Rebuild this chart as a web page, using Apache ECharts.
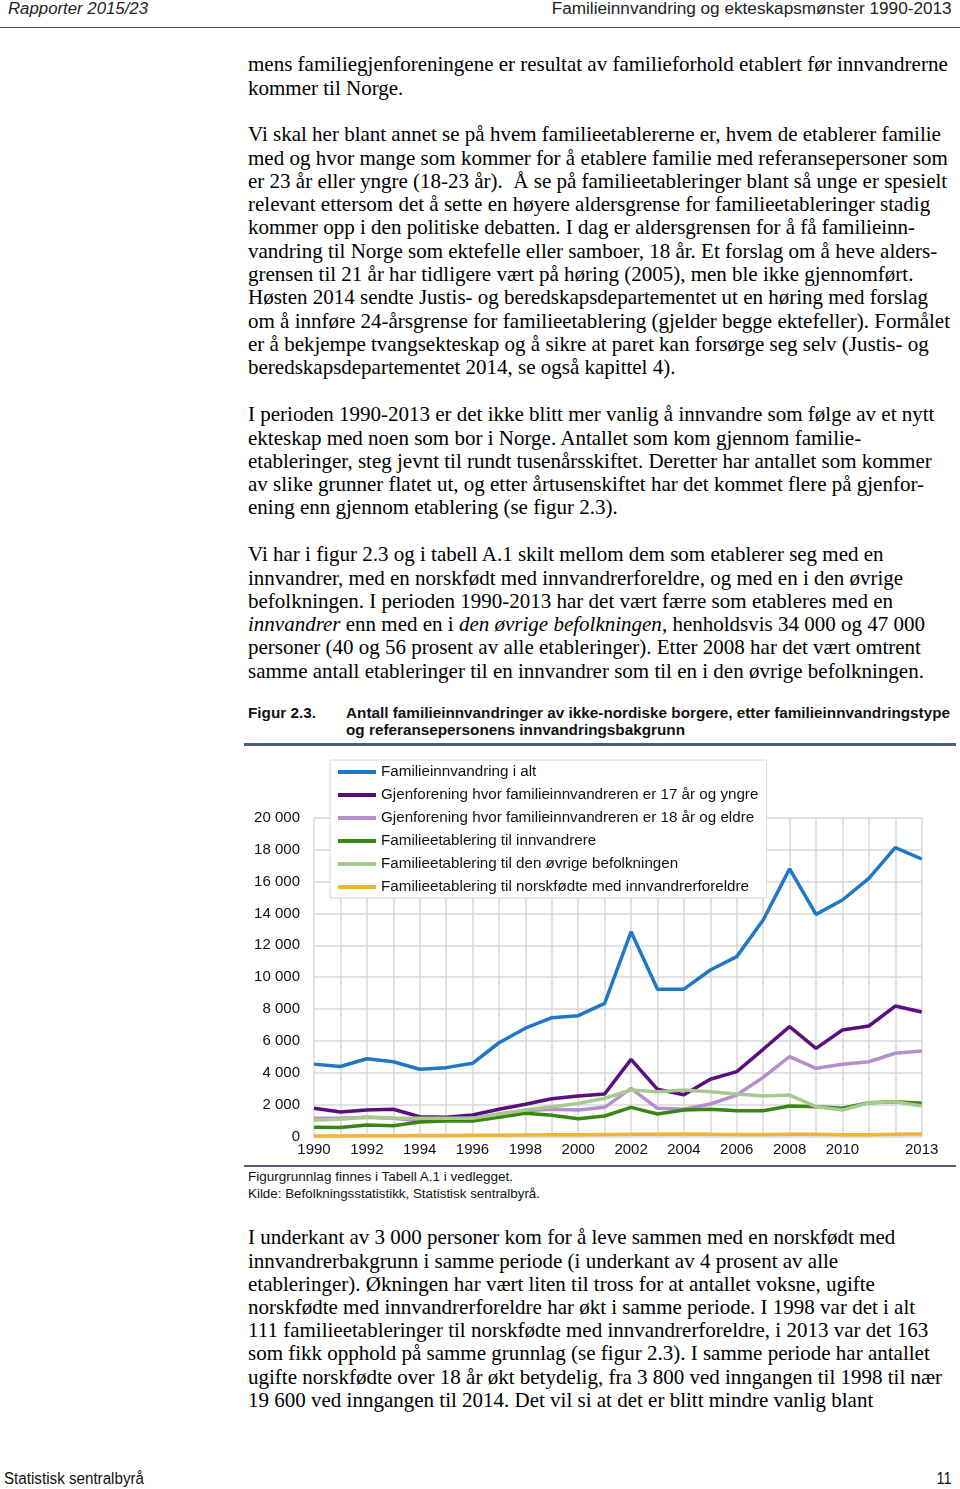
<!DOCTYPE html>
<html><head><meta charset="utf-8">
<script src="https://cdn.jsdelivr.net/npm/echarts@6/dist/echarts.min.js"></script>
<style>
html,body{margin:0;padding:0;background:#fff;}
body{width:960px;height:1489px;position:relative;overflow:hidden;}
.abs{position:absolute;white-space:nowrap;}
.body{font-family:"Liberation Serif","Times New Roman",serif;font-size:21px;line-height:23.3px;color:#000;left:248px;}
.sans{font-family:"Liberation Sans",Arial,sans-serif;}
.fit{display:inline-block;transform-origin:left center;}
</style></head><body>
<div class="abs sans" style="left:8px;top:0px;font-size:16px;font-style:italic;color:#222;line-height:18px;"><span class="fit" data-w="140">Rapporter 2015/23</span></div>
<div class="abs sans" style="right:8px;top:0px;font-size:16px;color:#222;line-height:18px;"><span class="fit" data-w="400" data-right="1">Familieinnvandring og ekteskapsmønster 1990-2013</span></div>
<div class="abs" style="left:0;top:27px;width:960px;height:1px;background:#555;"></div>

<div class="abs body" style="top:53.3px;">mens familiegjenforeningene er resultat av familieforhold etablert før innvandrerne<br>kommer til Norge.</div>
<div class="abs body" style="top:123.3px;">Vi skal her blant annet se på hvem familieetablererne er, hvem de etablerer familie<br>med og hvor mange som kommer for å etablere familie med referansepersoner som<br>er 23 år eller yngre (18-23 år).&nbsp; Å se på familieetableringer blant så unge er spesielt<br>relevant ettersom det å sette en høyere aldersgrense for familieetableringer stadig<br>kommer opp i den politiske debatten. I dag er aldersgrensen for å få familieinn-<br>vandring til Norge som ektefelle eller samboer, 18 år. Et forslag om å heve alders-<br>grensen til 21 år har tidligere vært på høring (2005), men ble ikke gjennomført.<br>Høsten 2014 sendte Justis- og beredskapsdepartementet ut en høring med forslag<br>om å innføre 24-årsgrense for familieetablering (gjelder begge ektefeller). Formålet<br>er å bekjempe tvangsekteskap og å sikre at paret kan forsørge seg selv (Justis- og<br>beredskapsdepartementet 2014, se også kapittel 4).</div>
<div class="abs body" style="top:403.3px;">I perioden 1990-2013 er det ikke blitt mer vanlig å innvandre som følge av et nytt<br>ekteskap med noen som bor i Norge. Antallet som kom gjennom familie-<br>etableringer, steg jevnt til rundt tusenårsskiftet. Deretter har antallet som kommer<br>av slike grunner flatet ut, og etter årtusenskiftet har det kommet flere på gjenfor-<br>ening enn gjennom etablering (se figur 2.3).</div>
<div class="abs body" style="top:543.3px;">Vi har i figur 2.3 og i tabell A.1 skilt mellom dem som etablerer seg med en<br>innvandrer, med en norskfødt med innvandrerforeldre, og med en i den øvrige<br>befolkningen. I perioden 1990-2013 har det vært færre som etableres med en<br><i>innvandrer</i> enn med en i <i>den øvrige befolkningen</i>, henholdsvis 34 000 og 47 000<br>personer (40 og 56 prosent av alle etableringer). Etter 2008 har det vært omtrent<br>samme antall etableringer til en innvandrer som til en i den øvrige befolkningen.</div>

<div class="abs sans" style="left:248px;top:705px;font-size:14px;font-weight:bold;line-height:17px;color:#111;"><span class="fit" data-w="68">Figur 2.3.</span></div>
<div class="abs sans" style="left:346px;top:705px;font-size:14px;font-weight:bold;line-height:17px;color:#111;"><span class="fit" data-w="604">Antall familieinnvandringer av ikke-nordiske borgere, etter familieinnvandringstype</span><br><span class="fit" data-w="339">og referansepersonens innvandringsbakgrunn</span></div>
<div class="abs" style="left:244px;top:742.5px;width:712px;height:3px;background:#4c5d7c;"></div>

<div id="chart" class="abs" style="left:240px;top:750px;width:720px;height:412px;"></div>

<div class="abs" style="left:244px;top:1165px;width:712px;height:2px;background:#4c5d7c;"></div>
<div class="abs sans" style="left:248px;top:1169px;font-size:12.5px;line-height:17px;color:#111;"><span class="fit" data-w="265">Figurgrunnlag finnes i Tabell A.1 i vedlegget.</span><br><span class="fit" data-w="292">Kilde: Befolkningsstatistikk, Statistisk sentralbyrå.</span></div>

<div class="abs body" style="top:1226.3px;line-height:23.2px;">I underkant av 3 000 personer kom for å leve sammen med en norskfødt med<br>innvandrerbakgrunn i samme periode (i underkant av 4 prosent av alle<br>etableringer). Økningen har vært liten til tross for at antallet voksne, ugifte<br>norskfødte med innvandrerforeldre har økt i samme periode. I 1998 var det i alt<br>111 familieetableringer til norskfødte med innvandrerforeldre, i 2013 var det 163<br>som fikk opphold på samme grunnlag (se figur 2.3). I samme periode har antallet<br>ugifte norskfødte over 18 år økt betydelig, fra 3 800 ved inngangen til 1998 til nær<br>19 600 ved inngangen til 2014. Det vil si at det er blitt mindre vanlig blant</div>

<div class="abs sans" style="left:4px;top:1470px;font-size:16px;line-height:18px;color:#111;"><span class="fit" data-w="140">Statistisk sentralbyrå</span></div>
<div class="abs sans" style="right:8px;top:1470px;font-size:16px;line-height:18px;color:#111;"><span class="fit" data-w="15" data-right="1">11</span></div>

<script>
// fit condensed sans text to measured widths
document.querySelectorAll('.fit').forEach(function(el){
  var w = el.getBoundingClientRect().width;
  var t = parseFloat(el.getAttribute('data-w'));
  if (w > 0) {
    if (el.getAttribute('data-right')) el.style.transformOrigin = 'right center';
    el.style.transform = 'scaleX(' + (t / w) + ')';
  }
});

var years = ['1990','1991','1992','1993','1994','1995','1996','1997','1998','1999','2000','2001','2002','2003','2004','2005','2006','2007','2008','2009','2010','2011','2012','2013'];
var totalAll      = [4550,4400,4890,4700,4230,4330,4600,5890,6800,7460,7590,8360,12850,9240,9250,10450,11290,13590,16790,13940,14840,16200,18120,17410];
var reunifYoung   = [1780,1550,1670,1720,1250,1220,1360,1720,2030,2380,2550,2680,4850,2970,2630,3600,4080,5480,6900,5540,6690,6940,8190,7820];
var reunifOld     = [1150,1150,1220,1150,1000,1080,1150,1420,1630,1720,1670,1840,3030,1780,1720,2050,2610,3720,5020,4290,4540,4700,5230,5370];
var estabImm      = [590,570,730,690,920,980,980,1220,1470,1340,1130,1300,1840,1420,1670,1720,1630,1630,1930,1880,1780,2130,2190,2090];
var estabRest     = [1050,1090,1220,1170,1150,1150,1150,1420,1670,1880,2090,2410,2930,2820,2930,2820,2680,2550,2610,1880,1670,2130,2190,1930];
var estabNorBorn  = [40,45,55,60,70,75,85,95,111,125,130,140,150,160,165,150,140,145,160,150,130,120,150,163];
var seriesNames = [
  'Familieinnvandring i alt',
  'Gjenforening hvor familieinnvandreren er 17 år og yngre',
  'Gjenforening hvor familieinnvandreren er 18 år og eldre',
  'Familieetablering til innvandrere',
  'Familieetablering til den øvrige befolkningen',
  'Familieetablering til norskfødte med innvandrerforeldre'
];
var seriesData = [totalAll, reunifYoung, reunifOld, estabImm, estabRest, estabNorBorn];
var colors = ['#1f77c6','#5b0f7e','#b48fcc','#3a8614','#a6ca8e','#efb535'];

var chart = echarts.init(document.getElementById('chart'), null, {renderer:'canvas'});
var series = seriesNames.map(function(n,i){
  return {name:n, type:'line', data:seriesData[i], showSymbol:false, symbol:'none',
    lineStyle:{width:3.5, color:colors[i]}, itemStyle:{color:colors[i]}, z:2+i, animation:false};
});
chart.setOption({
  animation:false,
  textStyle:{fontFamily:'"Liberation Sans", Arial, sans-serif'},
  grid:{left:74, top:67.7, width:607.7, height:319, containLabel:false},
  legend:{
    orient:'vertical', left:90, top:10,
    padding:[4,8,3,8], itemGap:7, itemWidth:38, itemHeight:4,
    backgroundColor:'#fff', borderColor:'#d6d6d6', borderWidth:1,
    icon:'rect',
    textStyle:{fontSize:15.2, color:'#111', lineHeight:16, fontFamily:'"Liberation Sans", Arial, sans-serif'},
    data:seriesNames
  },
  xAxis:{
    type:'category', data:years, boundaryGap:false,
    axisLine:{show:false}, axisTick:{show:false},
    axisLabel:{interval:0, fontSize:15, color:'#111', margin:6,
      formatter:function(v){ var y=+v; if ((y<=2010 && y%2===0) || y===2013) return v; return ''; }},
    splitLine:{show:true, interval:0, lineStyle:{color:'#d9d9d9', width:1.5}}
  },
  yAxis:{
    type:'value', min:0, max:20000, interval:2000,
    axisLine:{show:false}, axisTick:{show:false},
    axisLabel:{fontSize:15, color:'#111', margin:14,
      formatter:function(v){ return String(v).replace(/\B(?=(\d{3})+(?!\d))/g,' '); }},
    splitLine:{show:true, lineStyle:{color:'#d9d9d9', width:1.5}}
  },
  series:series
});
</script>
</body></html>
